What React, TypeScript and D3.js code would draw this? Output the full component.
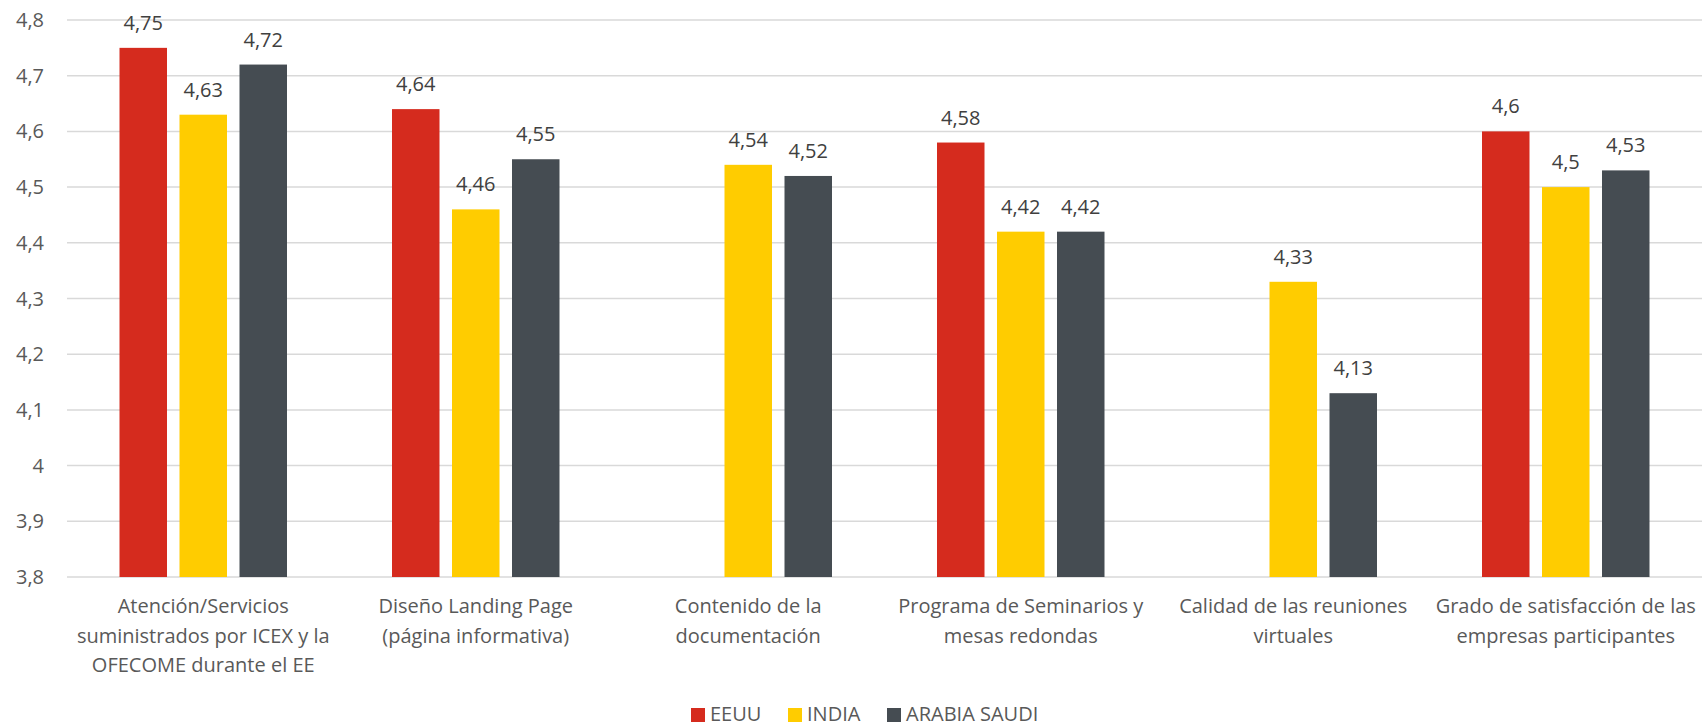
import React from "react";
import * as d3 from "d3";

const categories: string[][] = [
  ["Atención/Servicios", "suministrados por ICEX y la", "OFECOME durante el EE"],
  ["Diseño Landing Page", "(página informativa)"],
  ["Contenido de la", "documentación"],
  ["Programa de Seminarios y", "mesas redondas"],
  ["Calidad de las reuniones", "virtuales"],
  ["Grado de satisfacción de las", "empresas participantes"],
];
const seriesNames = ["EEUU", "INDIA", "ARABIA SAUDI"];
const eeuu: (number | null)[] = [4.75, 4.64, null, 4.58, null, 4.6];
const india: (number | null)[] = [4.63, 4.46, 4.54, 4.42, 4.33, 4.5];
const arabia: (number | null)[] = [4.72, 4.55, 4.52, 4.42, 4.13, 4.53];
const yTicks = [3.8, 3.9, 4, 4.1, 4.2, 4.3, 4.4, 4.5, 4.6, 4.7, 4.8];
const colors = ["#D52B1E", "#FFCC00", "#454C52"];

const W = 1703;
const H = 728;
const FONT = "'Open Sans', 'Liberation Sans', sans-serif";
const TEXT = "#595959";

export default function App() {
  const series = [eeuu, india, arabia];
  const left = 67, right = 1702, top = 20, bottom = 577;
  const y = d3.scaleLinear().domain([3.8, 4.8]).range([bottom, top]);
  const x0 = d3.scaleBand<number>().domain(categories.map((_, i) => i)).range([left, right]).paddingInner(0).paddingOuter(0);
  const bw = x0.bandwidth();
  const barW = 47.5;
  const gap = 12.5;
  const groupW = barW * 3 + gap * 2;
  const x1 = d3.scaleBand<number>().domain([0, 1, 2]).range([bw / 2 - groupW / 2, bw / 2 + groupW / 2]).paddingInner(gap / (barW + gap)).paddingOuter(0);
  const fmt = (v: number) => String(v).replace(".", ",");

  const legendX = [691, 788, 887];

  return (
    <svg width={W} height={H} style={{ position: "absolute", left: 0, top: 0, background: "#fff" }} fontFamily={FONT}>
      {yTicks.map((t) => (
        <g key={t}>
          <line x1={left} x2={right} y1={y(t)} y2={y(t)} stroke="#D9D9D9" strokeWidth={1.5} />
          <text x={44} y={y(t) + 7} textAnchor="end" fontSize={20} fill={TEXT}>{fmt(t)}</text>
        </g>
      ))}
      {categories.map((_, ci) => (
        <g key={ci} transform={`translate(${x0(ci)},0)`}>
          {series.map((s, si) => {
            const v = s[ci];
            if (v == null) return null;
            const bx = x1(si)!;
            const bwid = x1.bandwidth();
            return (
              <g key={si}>
                <rect x={bx} y={y(v)} width={bwid} height={y(3.8) - y(v)} fill={colors[si]} />
                <text x={bx + bwid / 2} y={y(v) - 18} textAnchor="middle" fontSize={20} fill="#404040">{fmt(v)}</text>
              </g>
            );
          })}
        </g>
      ))}
      {categories.map((lines, ci) => (
        <text key={ci} x={x0(ci)! + bw / 2} textAnchor="middle" fontSize={20} fill={TEXT}>
          {lines.map((l, li) => (
            <tspan key={li} x={x0(ci)! + bw / 2} y={613 + li * 29.5}>{l}</tspan>
          ))}
        </text>
      ))}
      {seriesNames.map((n, i) => (
        <g key={n}>
          <rect x={legendX[i]} y={708} width={14} height={14} fill={colors[i]} />
          <text x={legendX[i] + 19} y={721} fontSize={20} fill={TEXT}>{n}</text>
        </g>
      ))}
    </svg>
  );
}
